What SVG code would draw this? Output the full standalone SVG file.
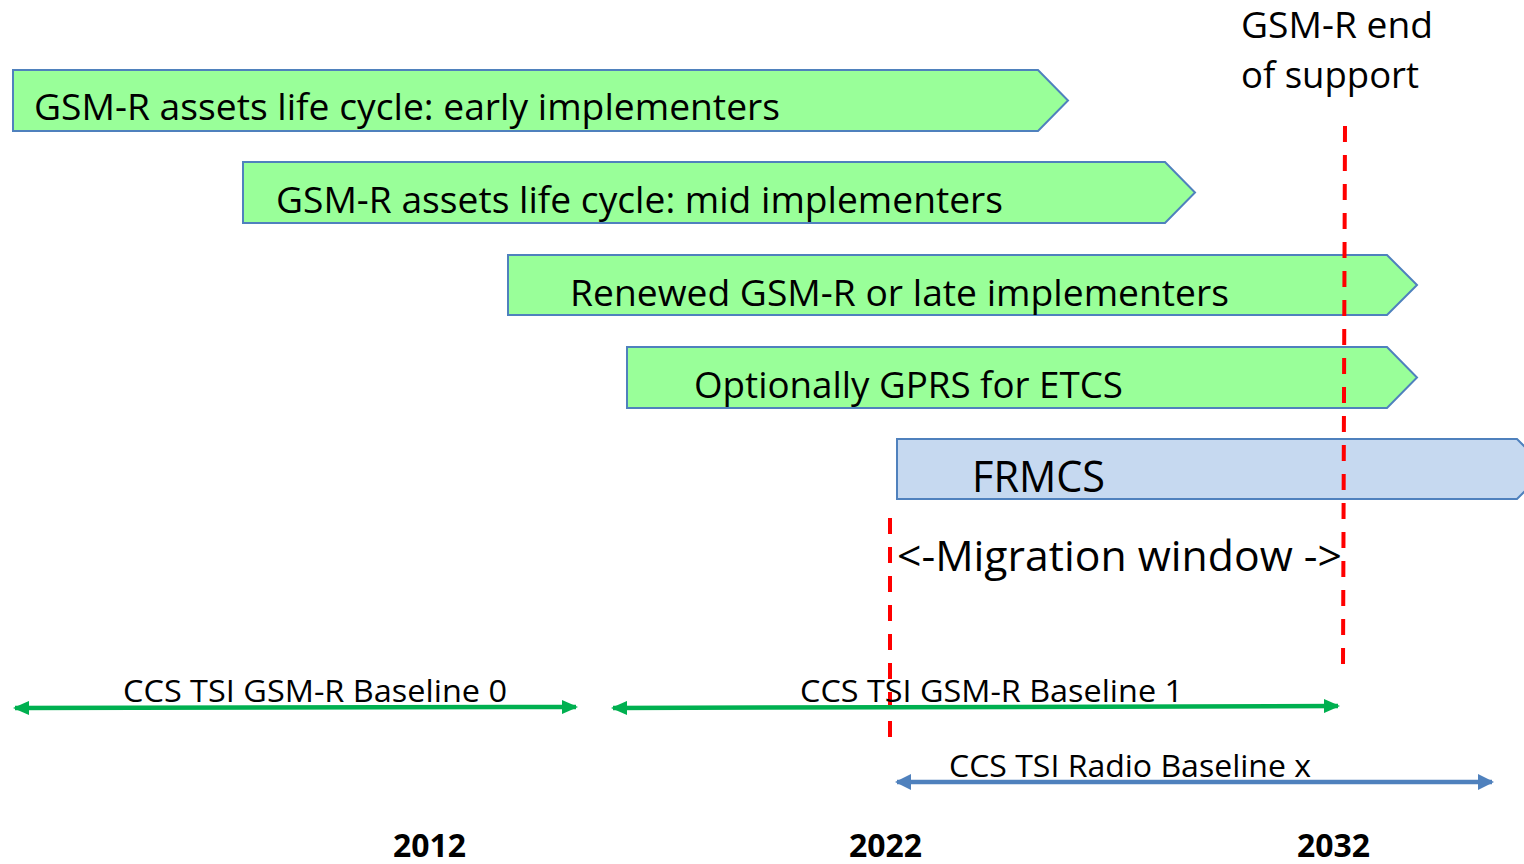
<svg xmlns="http://www.w3.org/2000/svg" width="1524" height="864" viewBox="0 0 1524 864">
<style>
.g{fill:#99ff99;stroke:#4f81bd;stroke-width:2}
.b{fill:#c6d9f0;stroke:#4f81bd;stroke-width:2}
text{font-family:"Open Sans","Liberation Sans",sans-serif;fill:#000}
.lbl{font-size:37px}
.sm{font-size:31px}
.yr{font-size:32px;font-weight:bold}
.red{stroke:#ff0000;stroke-width:4;stroke-dasharray:16 13;fill:none}
.ga{stroke:#00b050;stroke-width:4.5;fill:none}
.ba{stroke:#4f81bd;stroke-width:4.5;fill:none}
</style>
<defs>
<marker id="gh" markerUnits="userSpaceOnUse" markerWidth="16" markerHeight="14" refX="14" refY="7" orient="auto-start-reverse"><path d="M0,0 L16,7 L0,14 Z" fill="#00b050"/></marker>
<marker id="bh" markerUnits="userSpaceOnUse" markerWidth="16" markerHeight="16" refX="14" refY="8" orient="auto-start-reverse"><path d="M0,0 L16,8 L0,16 Z" fill="#4f81bd"/></marker>
</defs>
<g id="early"><polygon class="g" points="13,70 1038,70 1068,100.5 1038,131 13,131"/><text class="lbl" x="34" y="120" textLength="746" lengthAdjust="spacingAndGlyphs">GSM-R assets life cycle: early implementers</text></g>
<g id="mid"><polygon class="g" points="243,162 1165,162 1195,192.5 1165,223 243,223"/><text class="lbl" x="276" y="213" textLength="727" lengthAdjust="spacingAndGlyphs">GSM-R assets life cycle: mid implementers</text></g>
<g id="renewed"><polygon class="g" points="508,255 1387,255 1417,285 1387,315 508,315"/><text class="lbl" x="570" y="306" textLength="659" lengthAdjust="spacingAndGlyphs">Renewed GSM-R or late implementers</text></g>
<g id="gprs"><polygon class="g" points="627,347 1387,347 1417,377.5 1387,408 627,408"/><text class="lbl" x="694" y="398" textLength="429" lengthAdjust="spacingAndGlyphs">Optionally GPRS for ETCS</text></g>
<g id="frmcs"><polygon class="b" points="897,439 1517,439 1547,469 1517,499 897,499"/><text x="972" y="492" font-size="43" textLength="133" lengthAdjust="spacingAndGlyphs">FRMCS</text></g>
<g id="endsupport"><text x="1241" y="38" font-size="36" textLength="192" lengthAdjust="spacingAndGlyphs">GSM-R end</text><text x="1241" y="88" font-size="36" textLength="178" lengthAdjust="spacingAndGlyphs">of support</text></g>
<g id="migration"><text x="897" y="571" font-size="42" textLength="445" lengthAdjust="spacingAndGlyphs">&lt;-Migration window -&gt;</text></g>
<g id="connectors">
<line class="red" x1="1345" y1="126" x2="1343" y2="666"/>
<line class="red" x1="890" y1="518" x2="890" y2="740"/>
<line class="ga" x1="15" y1="708" x2="576" y2="707" marker-start="url(#gh)" marker-end="url(#gh)"/>
<line class="ga" x1="613" y1="708" x2="1338" y2="706" marker-start="url(#gh)" marker-end="url(#gh)"/>
<line class="ba" x1="897" y1="782" x2="1492" y2="782" marker-start="url(#bh)" marker-end="url(#bh)"/>
</g>
<g id="baselines">
<text class="sm" x="123" y="702" textLength="384" lengthAdjust="spacingAndGlyphs">CCS TSI GSM-R Baseline 0</text>
<text class="sm" x="800" y="702" textLength="383" lengthAdjust="spacingAndGlyphs">CCS TSI GSM-R Baseline 1</text>
<text class="sm" x="949" y="777" textLength="362" lengthAdjust="spacingAndGlyphs">CCS TSI Radio Baseline x</text>
</g>
<g id="years">
<text class="yr" x="393" y="857" textLength="73" lengthAdjust="spacingAndGlyphs">2012</text>
<text class="yr" x="849" y="857" textLength="73" lengthAdjust="spacingAndGlyphs">2022</text>
<text class="yr" x="1297" y="857" textLength="73" lengthAdjust="spacingAndGlyphs">2032</text>
</g>
</svg>
